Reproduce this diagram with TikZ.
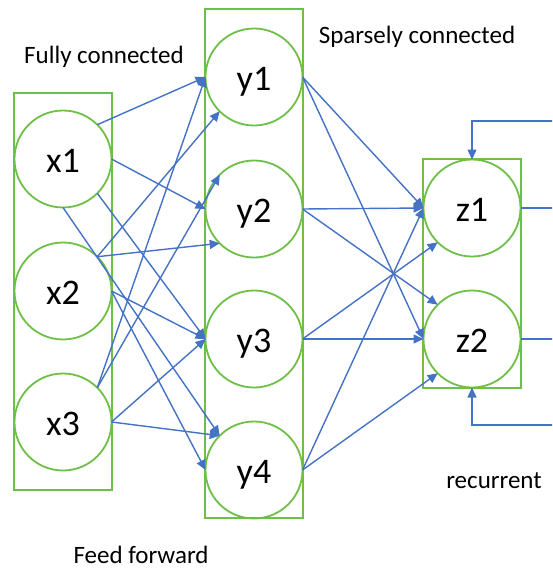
\documentclass[tikz,border=0pt]{standalone}
\usepackage{fontspec}
\setmainfont{Carlito}
\usetikzlibrary{arrows.meta}
\definecolor{netgreen}{HTML}{6EBF46}
\definecolor{netblue}{HTML}{4472C4}

\begin{document}
\begin{tikzpicture}[x=1pt,y=-1pt,
  neuron/.style={circle, draw=netgreen, line width=1.8pt, minimum size=97pt,
    inner sep=0pt, outer sep=0pt, font=\fontsize{36}{40}\selectfont,
    text height=26pt, text depth=0pt},
  layer/.style={draw=netgreen, line width=1.8pt},
  link/.style={draw=netblue, line width=1.4pt, -{Triangle[length=10pt,width=9pt]}},
  wire/.style={draw=netblue, line width=1.4pt},
  caption/.style={font=\fontsize{25}{30}\selectfont, anchor=base, inner sep=0pt}
]
\useasboundingbox (0,0) rectangle (552,570);
\clip (0,0) rectangle (552,570);

% layer frames
\draw[layer] (14,93) rectangle (112,490);
\draw[layer] (205,9) rectangle (303,518);
\draw[layer] (423,159) rectangle (521,388);

% input layer
\node[neuron] (x1) at (63,159) {x1};
\node[neuron] (x2) at (63,291) {x2};
\node[neuron] (x3) at (63,422) {x3};

% hidden layer
\node[neuron] (y1) at (254,77) {y1};
\node[neuron] (y2) at (254,209) {y2};
\node[neuron] (y3) at (254,339) {y3};
\node[neuron] (y4) at (254,470) {y4};

% output layer
\node[neuron] (z1) at (472,208) {z1};
\node[neuron] (z2) at (472,339) {z2};

% fully connected x -> y
\draw[link] (x1.45)  -- (y1.180);
\draw[link] (x2.45)  -- (y1.225);
\draw[link] (x3.45)  -- (y1.180);
\draw[link] (x1.0)   -- (y2.180);
\draw[link] (x2.45)  -- (y2.225);
\draw[link] (x3.45)  -- (y2.135);
\draw[link] (x1.315) -- (y3.180);
\draw[link] (x2.0)   -- (y3.180);
\draw[link] (x3.0)   -- (y3.180);
\draw[link] (x1.270) -- (y4.135);
\draw[link] (x2.0)   -- (y4.180);
\draw[link] (x3.0)   -- (y4.135);

% sparse y -> z
\draw[link] (y1.0) -- (z1.180);
\draw[link] (y1.0) -- (z2.180);
\draw[link] (y2.0) -- (z1.180);
\draw[link] (y2.0) -- (z2.135);
\draw[link] (y3.0) -- (z2.180);
\draw[link] (y3.0) -- (z1.225);
\draw[link] (y4.0) -- (z1.180);
\draw[link] (y4.0) -- (z2.225);

% recurrent loops
\coordinate (o1) at (560,208);
\coordinate (o2) at (560,339);
\coordinate (r1) at (560,121);
\coordinate (r2) at (560,425);
\draw[wire] (z1.0) -- (o1);
\draw[wire] (z2.0) -- (o2);
\draw[link] (r1) -| (z1.90);
\draw[link] (r2) -| (z2.270);

% captions
\node[caption] (fc) at (104,63) {Fully connected};
\node[caption] (sc) at (417,43) {Sparsely connected};
\node[caption] (ff) at (141,563) {Feed forward};
\node[caption] (rc) at (494,488) {recurrent};
\end{tikzpicture}
\end{document}
